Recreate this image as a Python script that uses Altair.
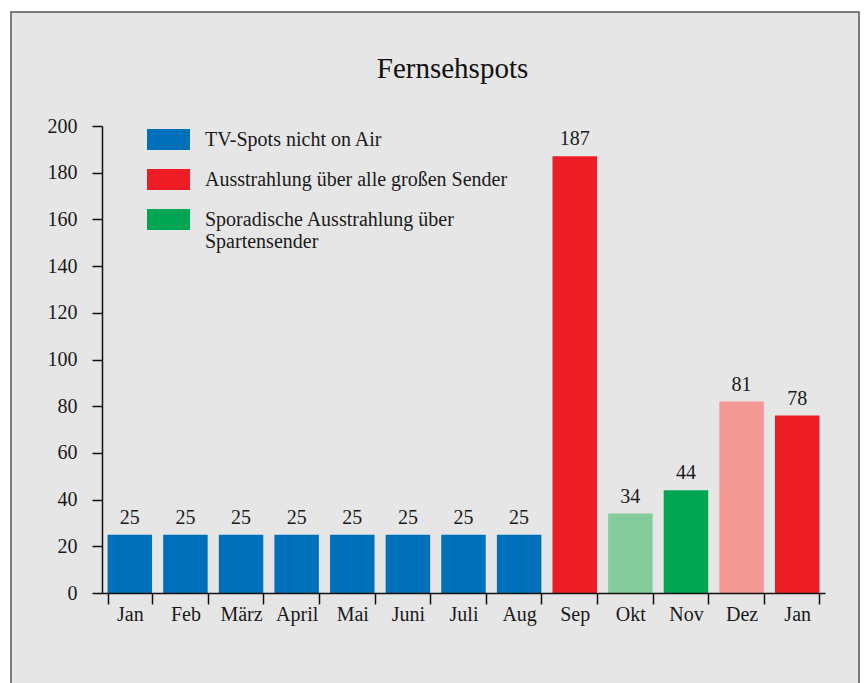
import altair as alt
import pandas as pd

months = ["Jan", "Feb", "März", "April", "Mai", "Juni", "Juli", "Aug", "Sep", "Okt", "Nov", "Dez", "Jan"]
values = [25, 25, 25, 25, 25, 25, 25, 25, 187, 34, 44, 82, 76]
labels = ["25", "25", "25", "25", "25", "25", "25", "25", "187", "34", "44", "81", "78"]
S_BLUE = "TV-Spots nicht on Air"
S_RED = "Ausstrahlung über alle großen Sender"
S_GREEN = "Sporadische Ausstrahlung über|Spartensender"
S_LGREEN = "Sporadisch (hell)"
S_PINK = "Große Sender (hell)"
series = [S_BLUE] * 8 + [S_RED, S_LGREEN, S_GREEN, S_PINK, S_RED]
series_domain = [S_BLUE, S_RED, S_GREEN, S_LGREEN, S_PINK]
series_colors = ["#0070bb", "#ee1c25", "#00a651", "#84cc9c", "#f49896"]

df = pd.DataFrame({
    "pos": list(range(len(months))),
    "month": months,
    "value": values,
    "label": labels,
    "series": series,
})

FONT = "Liberation Serif"
TXT = "#1a1a1a"
label_expr = "[" + ",".join("'%s'" % m for m in months) + "][datum.value]"

frame = alt.Chart(pd.DataFrame({"d": [0]})).mark_rect(
    fill="#e6e6e6", stroke="#555555", strokeWidth=1.5
).encode(
    x=alt.value(-91), x2=alt.value(757), y=alt.value(-114), y2=alt.value(580)
)

base = alt.Chart(df).encode(
    x=alt.X("pos:O", scale=alt.Scale(paddingInner=0.2, paddingOuter=0.1),
            axis=alt.Axis(title=None, labelExpr=label_expr, labelAngle=0,
                          tickBand="extent", tickSize=11, labelPadding=0,
                          labelFontSize=20, labelFont=FONT, labelColor=TXT,
                          domainColor="#111111", tickColor="#111111",
                          domainWidth=1.5, tickWidth=1.5, zindex=1)),
)

bars = base.mark_bar().encode(
    y=alt.Y("value:Q", scale=alt.Scale(domain=[0, 200], nice=False),
            axis=alt.Axis(title=None, values=list(range(0, 201, 20)), tickSize=10,
                          labelPadding=15, labelFontSize=20, labelFont=FONT,
                          labelColor=TXT, domainColor="#111111",
                          tickColor="#111111", domainWidth=1.5, tickWidth=1.5,
                          zindex=1)),
    color=alt.Color("series:N",
                    scale=alt.Scale(domain=series_domain, range=series_colors),
                    legend=alt.Legend(title=None, orient="none", legendX=45, legendY=-8,
                                      values=[S_BLUE, S_RED, S_GREEN],
                                      symbolType="M-1,-0.488H1V0.488H-1Z",
                                      symbolSize=1849, symbolStrokeWidth=0,
                                      symbolOpacity=1, labelFontSize=20,
                                      labelFont=FONT, labelColor=TXT,
                                      labelOffset=15, rowPadding=8,
                                      labelLimit=500,
                                      labelExpr="split(datum.label, '|')")),
)

texts = base.mark_text(dy=-17, fontSize=20, font=FONT, color=TXT).encode(
    y=alt.Y("value:Q"),
    text="label:N",
)

chart = alt.layer(frame, bars, texts).properties(
    width=723, height=467,
    title=alt.TitleParams("Fernsehspots", font=FONT, fontSize=29, fontWeight="normal",
                          color="#111111", offset=-73, dx=-11),
    padding={"left": 2, "top": 3, "right": 0, "bottom": 0},
    background="white",
).configure_view(stroke=None).configure_axis(grid=False)

chart.save("out.html", embed_options={"renderer": "svg", "actions": False})
